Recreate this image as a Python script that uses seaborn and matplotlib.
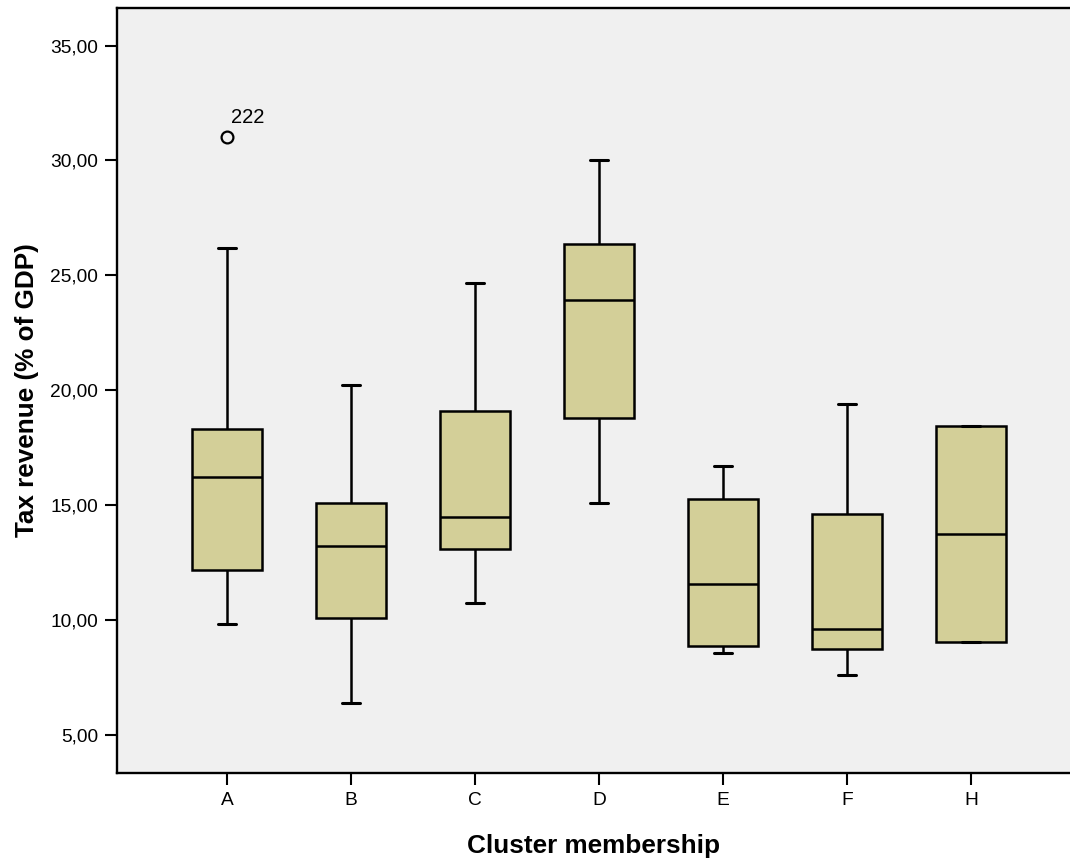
import numpy as np
import pandas as pd
import matplotlib
matplotlib.use("Agg")
import matplotlib.pyplot as plt
from matplotlib.ticker import FuncFormatter
import seaborn as sns

##### values #####
clusters = ['A', 'B', 'C', 'D', 'E', 'F', 'H']
whisker_low = [9.81, 6.38, 10.72, 15.07, 8.54, 7.59, 9.04]
q1 = [12.16, 10.10, 13.10, 18.79, 8.87, 8.74, 9.04]
median = [16.21, 13.23, 14.49, 23.92, 11.55, 9.60, 13.74]
q3 = [18.30, 15.07, 19.11, 26.35, 15.25, 14.62, 18.44]
whisker_high = [26.18, 20.23, 24.68, 30.01, 16.69, 19.40, 18.44]
outlier_cluster = 'A'
outlier_value = 31.02
outlier_label = '222'

#### long table so that seaborn gets the same quartiles / whiskers
rows = []
for i, c in enumerate(clusters):
    vals = [whisker_low[i], q1[i], q1[i], median[i], q3[i], q3[i], whisker_high[i]]
    if c == outlier_cluster:
        vals += [outlier_value, whisker_low[i]]  # keep quartiles in place
    for v in vals:
        rows.append((c, v))
df = pd.DataFrame(rows, columns=['cluster', 'tax'])

sns.set_style('white')
plt.rcParams['font.family'] = ['Liberation Sans', 'DejaVu Sans']
plt.rcParams['text.color'] = 'black'
plt.rcParams['axes.labelcolor'] = 'black'

fig = plt.figure(figsize=(10.70, 8.59), dpi=100)
ax = fig.add_axes([117 / 1070, 1 - 773 / 859, 1 - 117 / 1070, (773 - 8) / 859])
ax.set_facecolor('#f0f0f0')

sns.boxplot(data=df, x='cluster', y='tax', order=clusters, ax=ax,
            color='#d3cf98', saturation=1, width=0.56,
            linecolor='black', linewidth=1.8,
            flierprops=dict(marker='o', markerfacecolor='none',
                            markeredgecolor='black', markersize=8.5,
                            markeredgewidth=1.6))

# narrower caps like the original
for cont in ax.containers:
    for cap in getattr(cont, 'caps', []):
        xd = cap.get_xdata()
        c = np.mean(xd)
        cap.set_xdata([c - 0.073, c + 0.073])
        cap.set_linewidth(2.2)

# id label of the outlier
ax.annotate(outlier_label, xy=(clusters.index(outlier_cluster), outlier_value),
            xytext=(4, 14), textcoords='offset pixels', fontsize=14.5,
            ha='left', va='baseline', color='black')

ax.set_xlim(-0.887, 6.798)
ax.set_ylim(3.33, 36.64)
ax.set_yticks([5, 10, 15, 20, 25, 30, 35])
ax.yaxis.set_major_formatter(FuncFormatter(lambda v, p: ('%.2f' % v).replace('.', ',')))
ax.tick_params(axis='both', direction='out', length=8.6, width=1.5,
               labelsize=13.8, pad=5, colors='black', left=True, bottom=True)

for s in ['left', 'bottom', 'top']:
    ax.spines[s].set_visible(True)
    ax.spines[s].set_color('black')
    ax.spines[s].set_linewidth(1.7)
ax.spines['right'].set_visible(False)

ax.set_xlabel('Cluster membership', fontsize=18.8, fontweight='bold', labelpad=18)
ax.set_ylabel('Tax revenue (% of GDP)', fontsize=18.8, fontweight='bold', labelpad=8)

fig.savefig('out.png', dpi=100, facecolor='white')
